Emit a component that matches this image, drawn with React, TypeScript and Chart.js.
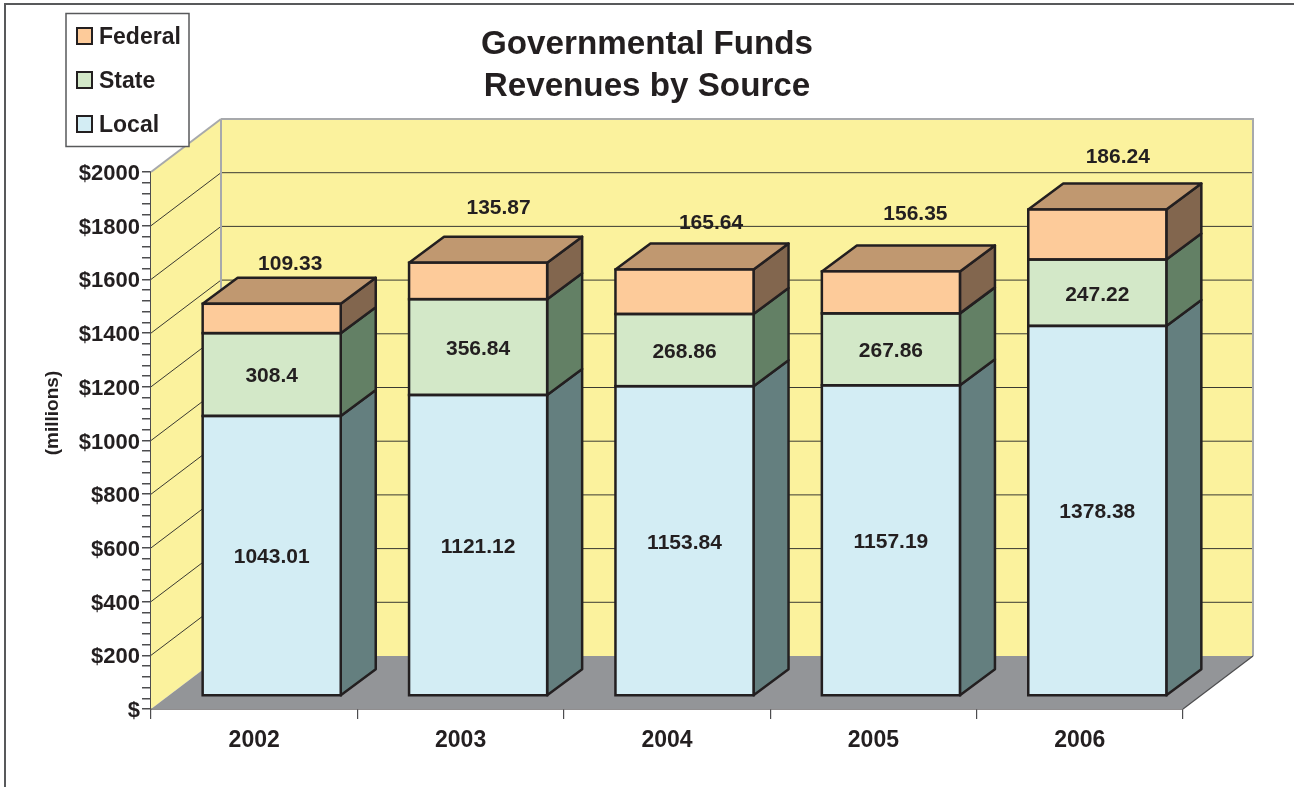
import React, { useEffect, useRef } from "react";
import { Chart, registerables } from "chart.js";

Chart.register(...registerables);

const years = ["2002", "2003", "2004", "2005", "2006"];
const local = [1043.01, 1121.12, 1153.84, 1157.19, 1378.38];
const state = [308.4, 356.84, 268.86, 267.86, 247.22];
const federal = [109.33, 135.87, 165.64, 156.35, 186.24];

// Label placement of the Federal values, relative to the top of each bar
const federalNudgeX = [18.5, 20.5, 26.5, 24.5, 20.5];
const federalNudgeY = [-42, -56, -48, -59, -54];

const INK = "#231f20";
const AXIS = "#4d4d4f";
const FONT = '"Liberation Sans", Arial, sans-serif';
const WALL = "#fbf29d";
const FLOOR = "#939598";
const EDGE = "#a7a9ac";
const GRID = "#3a3a32";
const WALL_DX = 70;
const WALL_DY = -53;
const BAR_DX = 17.5;
const BAR_DY = -13;
const DEPTH_DX = 35;
const DEPTH_DY = -26;

const faceColors = ["#d3edf4", "#d3e8c8", "#fdcb9a"];
const sideColors = ["#647f7f", "#638065", "#82664e"];
const topColor = "#c09870";

function poly(ctx: CanvasRenderingContext2D, pts: number[][], fill?: string, stroke?: string, w = 1) {
  ctx.beginPath();
  pts.forEach((p, i) => (i ? ctx.lineTo(p[0], p[1]) : ctx.moveTo(p[0], p[1])));
  ctx.closePath();
  if (fill) {
    ctx.fillStyle = fill;
    ctx.fill();
  }
  if (stroke) {
    ctx.strokeStyle = stroke;
    ctx.lineWidth = w;
    ctx.lineJoin = "round";
    ctx.stroke();
  }
}

function line(ctx: CanvasRenderingContext2D, x1: number, y1: number, x2: number, y2: number, c: string, w: number) {
  ctx.beginPath();
  ctx.moveTo(x1, y1);
  ctx.lineTo(x2, y2);
  ctx.strokeStyle = c;
  ctx.lineWidth = w;
  ctx.stroke();
}

const scene = {
  id: "scene3d",
  beforeDraw(chart: any) {
    const { ctx } = chart;
    ctx.save();
    ctx.fillStyle = "#fff";
    ctx.fillRect(0, 0, chart.width, chart.height);
    line(ctx, 5, 4, chart.width, 4, "#58595b", 2);
    line(ctx, 5, 3, 5, chart.height, "#58595b", 2);
    ctx.restore();
  },
  beforeDatasetsDraw(chart: any) {
    const { ctx, chartArea: a, scales } = chart;
    const y = scales.y;
    ctx.save();
    const bl = [a.left, a.bottom];
    const tl = [a.left, a.top];
    const bbl = [a.left + WALL_DX, a.bottom + WALL_DY];
    const tbl = [a.left + WALL_DX, a.top + WALL_DY];
    const tbr = [a.right + WALL_DX, a.top + WALL_DY];
    const bbr = [a.right + WALL_DX, a.bottom + WALL_DY];
    poly(ctx, [bl, tl, tbl, bbl], WALL);
    poly(ctx, [bbl, tbl, tbr, bbr], WALL);
    poly(ctx, [bl, bbl, bbr, [a.right, a.bottom]], FLOOR);
    y.ticks.forEach((t: any) => {
      if (t.value % 200 !== 0 || t.value === 0 || t.value === 2000) return;
      const py = y.getPixelForValue(t.value);
      line(ctx, a.left, py, a.left + WALL_DX, py + WALL_DY, GRID, 1);
      line(ctx, a.left + WALL_DX, py + WALL_DY, a.right + WALL_DX, py + WALL_DY, GRID, 1);
    });
    line(ctx, tl[0], tl[1], tbl[0], tbl[1], EDGE, 2);
    line(ctx, tbl[0], tbl[1], tbr[0] + 1, tbr[1], EDGE, 2);
    line(ctx, tbl[0], tbl[1], bbl[0], bbl[1], EDGE, 2);
    line(ctx, tbr[0], tbr[1], bbr[0], bbr[1], EDGE, 2);
    line(ctx, a.right, a.bottom, bbr[0], bbr[1], AXIS, 1.2);

    // depth faces of the bars
    chart.data.datasets.forEach((_: any, di: number) => {
      chart.getDatasetMeta(di).data.forEach((b: any) => {
        const r = b.x + b.width / 2 + BAR_DX;
        const t = b.y + BAR_DY;
        const u = b.base + BAR_DY;
        poly(ctx, [[r, t], [r + DEPTH_DX, t + DEPTH_DY], [r + DEPTH_DX, u + DEPTH_DY], [r, u]], sideColors[di], INK, 2.5);
        if (di === chart.data.datasets.length - 1) {
          const l = b.x - b.width / 2 + BAR_DX;
          poly(ctx, [[l, t], [l + DEPTH_DX, t + DEPTH_DY], [r + DEPTH_DX, t + DEPTH_DY], [r, t]], topColor, INK, 2.5);
        }
      });
    });
    ctx.restore();
    // the library's bars are drawn inside this shift
    ctx.save();
    ctx.translate(BAR_DX, BAR_DY);
  },
  afterDatasetsDraw(chart: any) {
    const { ctx } = chart;
    ctx.restore();
    ctx.save();
    chart.data.datasets.forEach((ds: any, di: number) => {
      chart.getDatasetMeta(di).data.forEach((b: any) => {
        const l = b.x - b.width / 2 + BAR_DX;
        const t = b.y + BAR_DY;
        const u = b.base + BAR_DY;
        ctx.strokeStyle = INK;
        ctx.lineWidth = 2.5;
        ctx.strokeRect(l, t, b.width, u - t);
      });
    });
    ctx.fillStyle = INK;
    ctx.font = `bold 21px ${FONT}`;
    ctx.textAlign = "center";
    ctx.textBaseline = "middle";
    chart.data.datasets.forEach((ds: any, di: number) => {
      chart.getDatasetMeta(di).data.forEach((b: any, i: number) => {
        const cx = b.x + BAR_DX;
        const top = b.y + BAR_DY;
        const bottom = b.base + BAR_DY;
        if (di === 2) {
          ctx.fillText(String(ds.data[i]), cx + federalNudgeX[i], top + federalNudgeY[i] + 2);
        } else {
          ctx.fillText(String(ds.data[i]), cx, (top + bottom) / 2 + 2);
        }
      });
    });

    // y axis caption
    ctx.save();
    ctx.translate(53, 413);
    ctx.rotate(-Math.PI / 2);
    ctx.font = `bold 19px ${FONT}`;
    ctx.fillText("(millions)", 0, 0);
    ctx.restore();

    // legend
    ctx.fillStyle = "#fff";
    ctx.fillRect(66, 13, 123, 133);
    ctx.strokeStyle = "#58595b";
    ctx.lineWidth = 1.5;
    ctx.strokeRect(66, 13.5, 123, 133);
    ctx.font = `bold 23px ${FONT}`;
    ctx.textAlign = "left";
    chart.data.datasets
      .slice()
      .reverse()
      .forEach((ds: any, i: number) => {
        const cy = 36 + i * 44;
        ctx.fillStyle = ds.backgroundColor;
        ctx.fillRect(77, cy - 8, 15, 16);
        ctx.strokeStyle = INK;
        ctx.lineWidth = 2;
        ctx.strokeRect(77, cy - 8, 15, 16);
        ctx.fillStyle = INK;
        ctx.fillText(ds.label, 99, cy + 2);
      });
    ctx.restore();
  },
};

export default function App() {
  const ref = useRef<HTMLCanvasElement>(null);
  useEffect(() => {
    document.body.style.margin = "0";
    const chart = new Chart(ref.current!, {
      type: "bar",
      data: {
        labels: years,
        datasets: [
          { label: "Local", data: local, backgroundColor: faceColors[0] },
          { label: "State", data: state, backgroundColor: faceColors[1] },
          { label: "Federal", data: federal, backgroundColor: faceColors[2] },
        ],
      },
      options: {
        responsive: false,
        animation: false,
        datasets: { bar: { categoryPercentage: 1, barPercentage: 0.669, borderWidth: 0 } },
        layout: { padding: 0 },
        plugins: {
          legend: { display: false },
          tooltip: { enabled: false },
          title: {
            display: true,
            text: ["Governmental Funds", "Revenues by Source"],
            color: INK,
            font: { family: FONT, size: 33.2, weight: "bold", lineHeight: 42 / 33.2 },
            padding: { top: 24, bottom: 64 },
          },
        },
        scales: {
          x: {
            stacked: true,
            afterFit: (s: any) => {
              s.height = 78;
              s.paddingRight = 111;
            },
            grid: { offset: true, drawOnChartArea: false, drawTicks: true, tickLength: 10, color: AXIS, lineWidth: 1.2 },
            border: { display: true, color: INK, width: 1.5 },
            ticks: { color: INK, font: { family: FONT, size: 23, weight: "bold" }, padding: 8, maxRotation: 0 },
          },
          y: {
            stacked: true,
            min: 0,
            max: 2000,
            afterFit: (s: any) => {
              s.width = 151;
            },
            grid: { drawOnChartArea: false, drawTicks: true, tickLength: 9, color: AXIS, lineWidth: 1.5 },
            border: { display: true, color: AXIS, width: 1.5 },
            ticks: {
              stepSize: 40,
              autoSkip: false,
              color: INK,
              padding: 2,
              labelOffset: 2,
              font: { family: FONT, size: 22, weight: "bold" },
              callback: (v: any) => (v === 0 ? "$" : v % 200 === 0 ? "$" + v : ""),
            },
          },
        },
      },
      plugins: [scene],
    } as any);
    return () => chart.destroy();
  }, []);
  return <canvas ref={ref} width={1294} height={787} style={{ display: "block" }} />;
}
